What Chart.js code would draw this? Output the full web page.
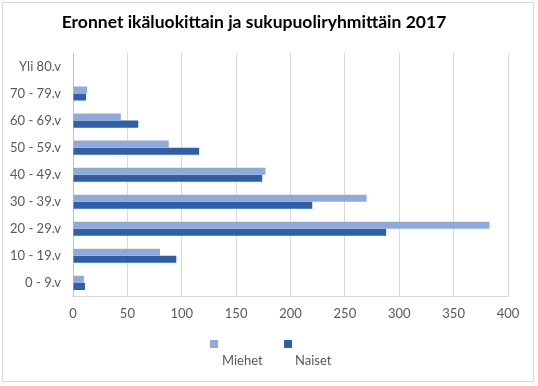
<!DOCTYPE html>
<html>
<head>
<meta charset="utf-8">
<script src="https://cdn.jsdelivr.net/npm/chart.js@4/dist/chart.umd.min.js"></script>
<style>
  html, body { margin: 0; padding: 0; background: #fff; }
  #wrap { position: relative; width: 538px; height: 386px; }
  #frame { position: absolute; left: 2px; top: 2px; width: 532px; height: 380px; border: 1px solid #d9d9d9; box-sizing: border-box; pointer-events: none; }
  .lg-box { position: absolute; width: 8px; height: 8px; }
  .lg-txt { position: absolute; font-family: Lato, sans-serif; font-size: 13px; color: #595959; }
</style>
</head>
<body>
<div id="wrap">
  <canvas id="c" width="538" height="386"></canvas>
  <div id="frame"></div>
  <div class="lg-box" id="b0" style="left:210px; top:340px;"></div>
  <div class="lg-txt" id="t0" style="left:222px; top:352px;"></div>
  <div class="lg-box" id="b1" style="left:284px; top:340px;"></div>
  <div class="lg-txt" id="t1" style="left:295px; top:352px;"></div>
</div>
<script>
const categories = ["Yli 80.v", "70 - 79.v", "60 - 69.v", "50 - 59.v", "40 - 49.v", "30 - 39.v", "20 - 29.v", "10 - 19.v", "0 - 9.v"];
const seriesNames = ["Miehet", "Naiset"];
const miehet = [0, 13, 44, 88, 177, 270, 383, 80, 10];
const naiset = [0, 12, 60, 116, 174, 220, 288, 95, 11];
const xTicks = [0, 50, 100, 150, 200, 250, 300, 350, 400];
const titleText = "Eronnet ikäluokittain ja sukupuoliryhmittäin 2017";
const colors = ["#8eaadb", "#2f5fa6"];

[0, 1].forEach(i => {
  document.getElementById('b' + i).style.background = colors[i];
  document.getElementById('t' + i).textContent = seriesNames[i];
});

new Chart(document.getElementById('c'), {
  type: 'bar',
  data: {
    labels: categories,
    datasets: [
      { label: seriesNames[0], data: miehet, backgroundColor: colors[0], barPercentage: 1, categoryPercentage: 0.52 },
      { label: seriesNames[1], data: naiset, backgroundColor: colors[1], barPercentage: 1, categoryPercentage: 0.52 }
    ]
  },
  options: {
    indexAxis: 'y',
    responsive: false,
    animation: false,
    layout: { padding: { left: 0, right: 30, top: 0, bottom: 54 } },
    plugins: {
      legend: { display: false },
      tooltip: { enabled: false },
      title: {
        display: true,
        text: titleText,
        color: '#000',
        font: { family: 'Lato', size: 17.5, weight: 'bold', lineHeight: 1.2 },
        padding: { top: 12, bottom: 20 }
      }
    },
    scales: {
      x: {
        min: 0, max: 400,
        afterBuildTicks: s => { s.ticks = xTicks.map(v => ({ value: v })); },
        grid: { color: '#d9d9d9', drawTicks: false },
        border: { color: '#d9d9d9' },
        ticks: { color: '#595959', padding: 10, font: { family: 'Lato', size: 13 } }
      },
      y: {
        afterFit: s => { s.width = 73; },
        grid: { display: false, drawTicks: false },
        border: { color: '#bfbfbf' },
        ticks: { color: '#595959', padding: 12, font: { family: 'Lato', size: 13 } }
      }
    }
  }
});
</script>
</body>
</html>
